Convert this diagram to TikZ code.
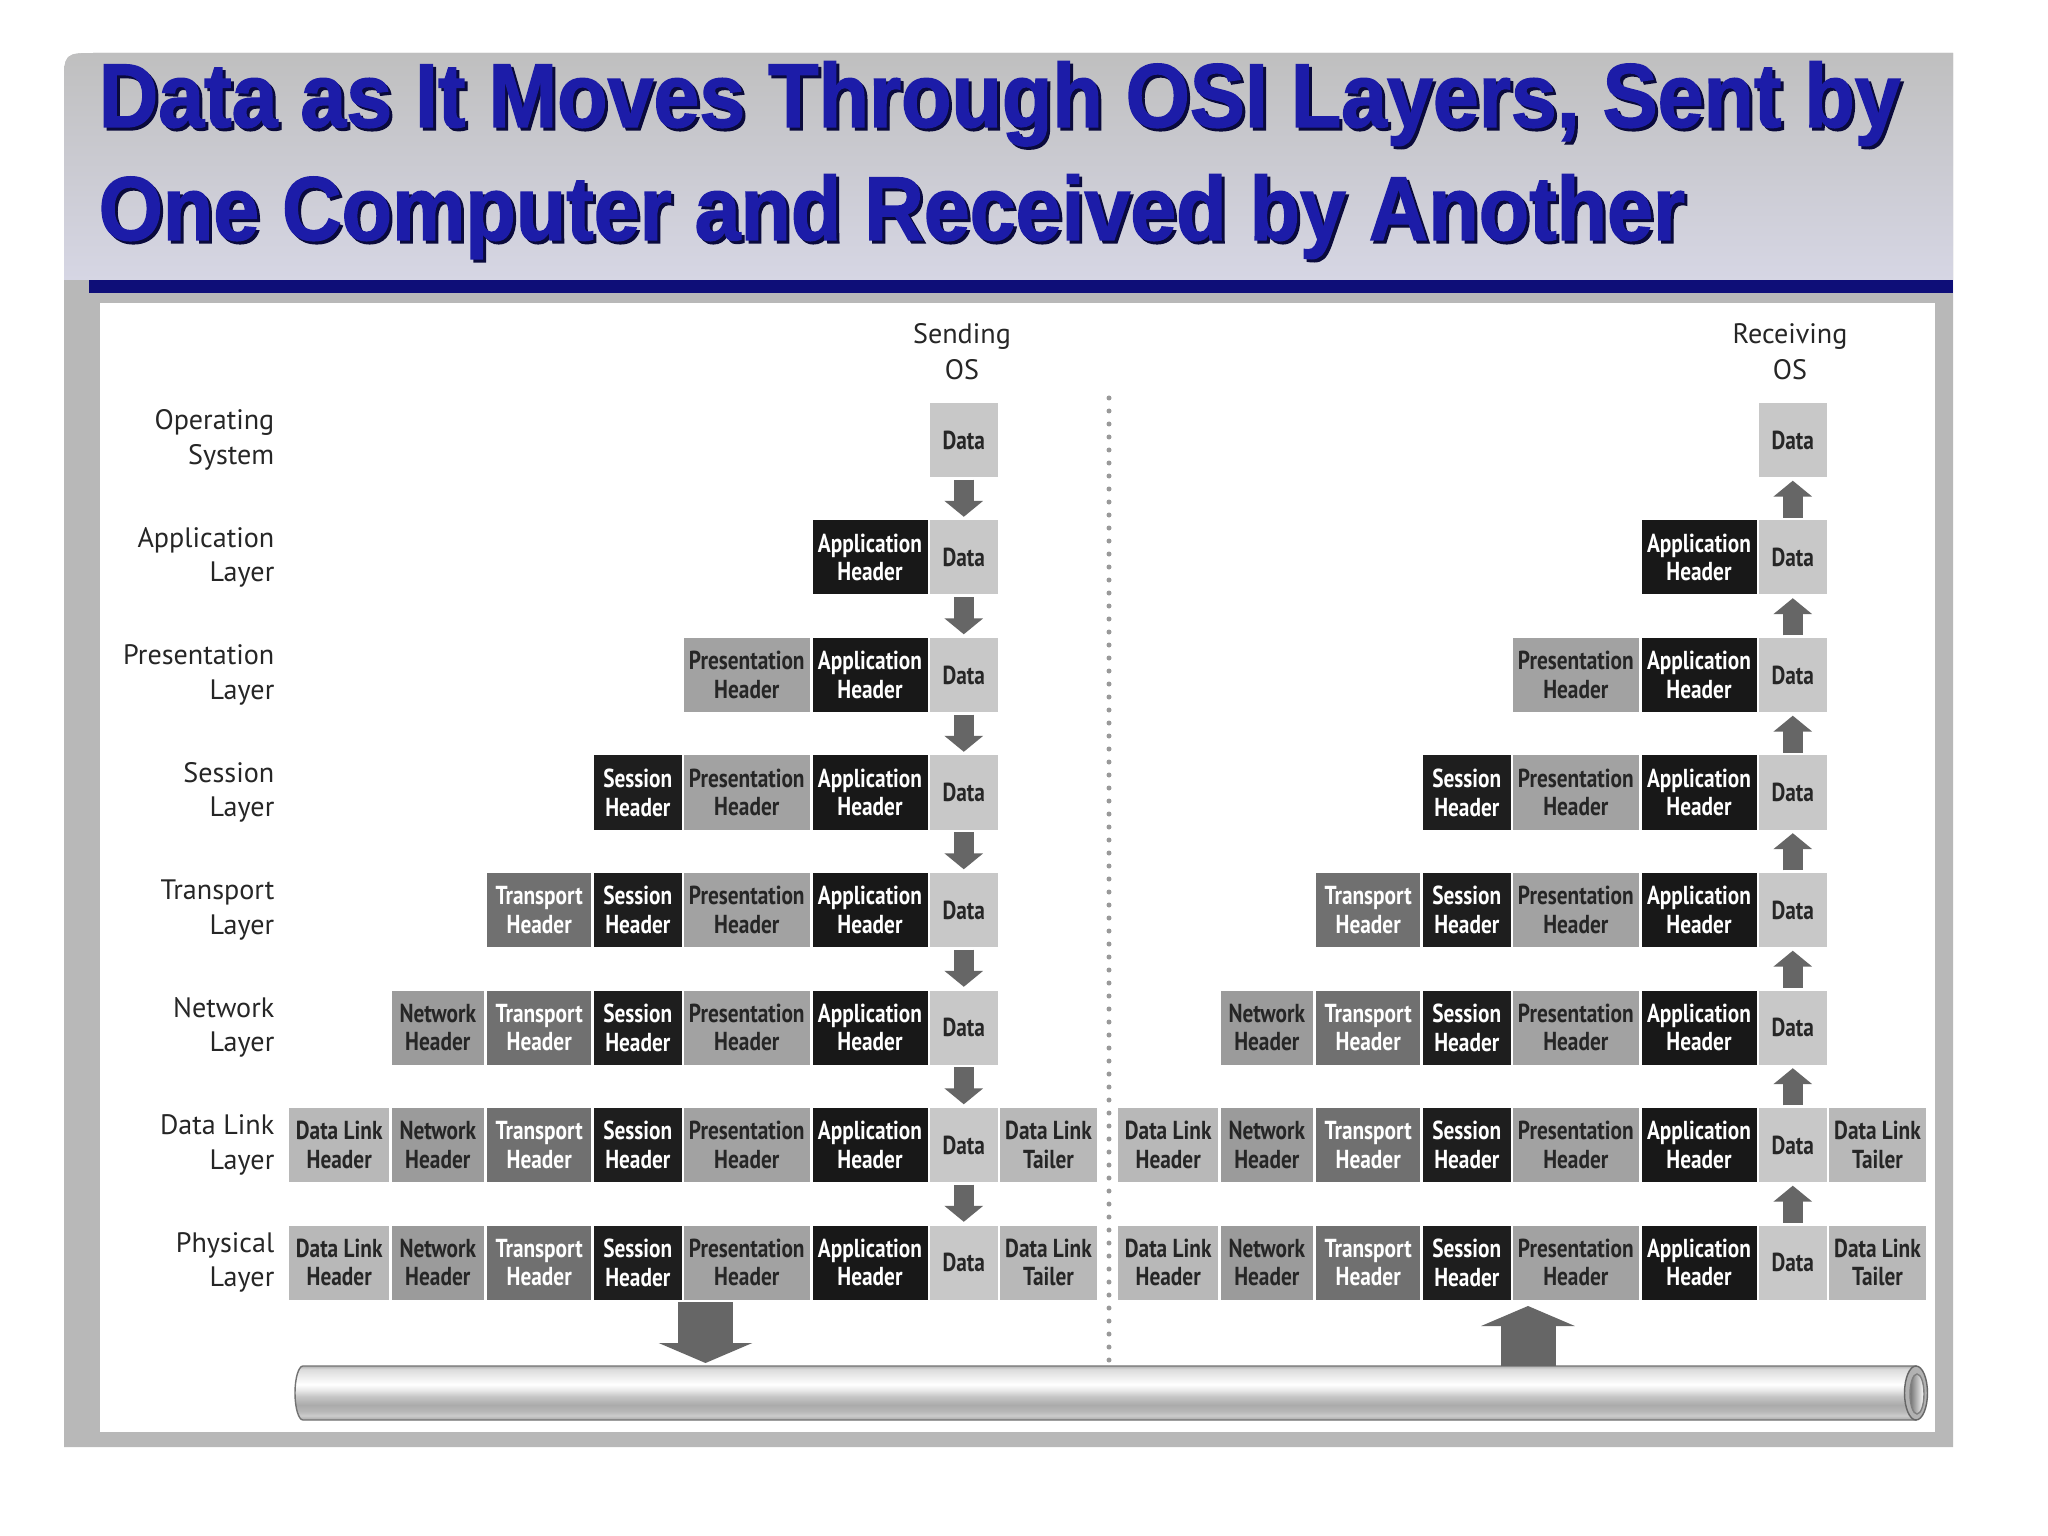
\documentclass[tikz,border=0pt]{standalone}
\usepackage{fontspec}
\setmainfont{PT Sans}
\newfontfamily\cellfont[FakeStretch=0.82]{PT Sans}
\newfontfamily\titlefont[FakeStretch=0.91,BoldFeatures={FakeBold=1.5}]{Liberation Sans}
\usepackage{xcolor}
\usepackage{tikz}
\usetikzlibrary{arrows.meta,positioning,calc}
\definecolor{titrebleu}{HTML}{1C1CA8}
\definecolor{ombrebleu}{HTML}{0A0A3C}
\definecolor{filet}{HTML}{0E0E78}
\definecolor{lavande}{HTML}{D6D6E4}
\definecolor{gdata}{HTML}{C8C8C8}
\definecolor{gliaison}{HTML}{B8B8B8}
\definecolor{greseau}{HTML}{9B9B9B}
\definecolor{gtransport}{HTML}{707070}
\definecolor{gsession}{HTML}{1E1E1E}
\definecolor{gpresent}{HTML}{A2A2A2}
\definecolor{gappli}{HTML}{181818}
\pgfdeclareverticalshading{tuyau}{100bp}{color(0bp)=(black!35); color(25bp)=(black!35); color(29bp)=(black!20); color(33bp)=(black!28); color(39bp)=(black!33); color(47bp)=(black!22); color(53bp)=(black!8); color(58bp)=(white); color(63bp)=(black!5); color(72bp)=(black!14); color(75bp)=(black!30); color(100bp)=(black!30)}

\begin{document}
\begin{tikzpicture}[x=1cm,y=-1cm,
  cellule/.style={minimum height=0.74cm, inner sep=0pt, align=center, text=black!85, font=\cellfont\bfseries\fontsize{7.4}{8.2}\selectfont},
  donnee/.style={cellule, fill=gdata, minimum width=0.675cm},
  liaison/.style={cellule, fill=gliaison},
  reseau/.style={cellule, fill=greseau},
  transport/.style={cellule, fill=gtransport, text=white},
  session/.style={cellule, fill=gsession, text=white},
  present/.style={cellule, fill=gpresent},
  appli/.style={cellule, fill=gappli, text=white},
  couche/.style={align=right, anchor=east, inner sep=0pt, text=black!85, font=\fontsize{8}{9.8}\selectfont},
  systeme/.style={align=center, inner sep=0pt, text=black!85, font=\fontsize{8}{10.2}\selectfont},
  titre/.style={anchor=base west, inner sep=0pt, font=\titlefont\bfseries\fontsize{25.8}{30}\selectfont},
  fleche/.style={-{Triangle[width=0.38cm,length=0.16cm]}, line width=0.2cm, black!60, shorten <=0.02cm, shorten >=0.03cm},
  grossefleche/.style={-{Triangle[width=0.93cm,length=0.2cm]}, line width=0.55cm, black!60},
  pointille/.style={black!40, line width=0.05cm, line cap=round, dash pattern=on 0pt off 0.13cm}]
  \useasboundingbox (0,0) rectangle (20.48,15.36);
  % cadre et bandeau de titre
  \fill[black!28] (0.64,14.47) -- (0.64,0.86) .. controls (0.64,0.53) .. (0.97,0.53) -- (19.53,0.53) -- (19.53,14.47) -- cycle;
  \shade[top color=black!25, bottom color=lavande] (0.64,2.80) -- (0.64,0.86) .. controls (0.64,0.53) .. (0.97,0.53) -- (19.53,0.53) -- (19.53,2.80) -- cycle;
  \fill[filet] (0.89,2.80) rectangle (19.53,2.93);
  \fill[white] (1.00,3.03) rectangle (19.35,14.32);
  \node[titre, text=ombrebleu] (titreA-ombre) at (1.01,1.30) {Data as It Moves Through OSI Layers, Sent by};
  \node[titre, text=titrebleu] (titreA) at (0.98,1.27) {Data as It Moves Through OSI Layers, Sent by};
  \node[titre, text=ombrebleu] (titreB-ombre) at (1.01,2.43) {One Computer and Received by Another};
  \node[titre, text=titrebleu] (titreB) at (0.98,2.40) {One Computer and Received by Another};
  % couches
  \foreach \rg/\nom/\nb/\queue in {0/{Operating\\System}/0/0, 1/{Application\\Layer}/1/0, 2/{Presentation\\Layer}/2/0, 3/{Session\\Layer}/3/0, 4/{Transport\\Layer}/4/0, 5/{Network\\Layer}/5/0, 6/{Data Link\\Layer}/6/1, 7/{Physical\\Layer}/6/1} {
    \pgfmathsetmacro{\yy}{4.40+1.175*\rg}
    \node[couche] (lab-\rg) at (2.75,\yy) {\nom};
    \foreach \cote/\dx in {S/0, R/8.29} {
      \node[donnee] (\cote-dat-\rg) at (9.638+\dx,\yy) {Data};
      \foreach \kk/\cid/\xc/\lar/\sty/\txt in {1/app/8.70/1.15/appli/{Application\\Header}, 2/pre/7.468/1.255/present/{Presentation\\Header}, 3/ses/6.378/0.885/session/{Session\\Header}, 4/tra/5.392/1.045/transport/{Transport\\Header}, 5/net/4.378/0.915/reseau/{Network\\Header}, 6/dlh/3.392/0.995/liaison/{Data Link\\Header}} {
        \ifnum\kk>\nb\relax\else
          \node[\sty, minimum width=\lar cm] (\cote-\cid-\rg) at (\xc+\dx,\yy) {\txt};
        \fi
      }
      \ifnum\queue=1
        \node[liaison, minimum width=0.97cm] (\cote-dlt-\rg) at (10.485+\dx,\yy) {Data Link\\Tailer};
      \fi
    }
  }
  \node[systeme] (envoiOS) at (9.62,3.52) {Sending\\OS};
  \node[systeme] (recepOS) at (17.90,3.52) {Receiving\\OS};
  % flèches entre couches
  \foreach \rg [count=\sv] in {0,...,6} {
    \draw[fleche] (S-dat-\rg) -- (S-dat-\sv);
    \draw[fleche] (R-dat-\sv) -- (R-dat-\rg);
  }
  % séparation
  \coordinate (sepH) at (11.09,3.98);
  \coordinate (sepB) at (11.09,13.64);
  \draw[pointille] (sepH) -- (sepB);
  % câble
  \shade[shading=tuyau, draw=black!55, thin] (19.16,13.66) -- (3.03,13.66) arc[start angle=270, end angle=90, x radius=0.08, y radius=0.27] -- (19.16,14.20) -- cycle;
  \filldraw[fill=black!30, draw=black!60, thin] (19.16,13.93) ellipse [x radius=0.115, y radius=0.27];
  \shade[left color=black!55, right color=white, draw=black!50] (19.17,13.94) ellipse [x radius=0.07, y radius=0.2];
  \coordinate (departS) at (7.055,13.02);
  \coordinate (cableS) at (7.055,13.63);
  \draw[grossefleche] (departS) -- (cableS);
  \coordinate (cableR) at (15.28,13.66);
  \coordinate (arriveeR) at (15.28,13.06);
  \draw[grossefleche] (cableR) -- (arriveeR);
\end{tikzpicture}
\end{document}
